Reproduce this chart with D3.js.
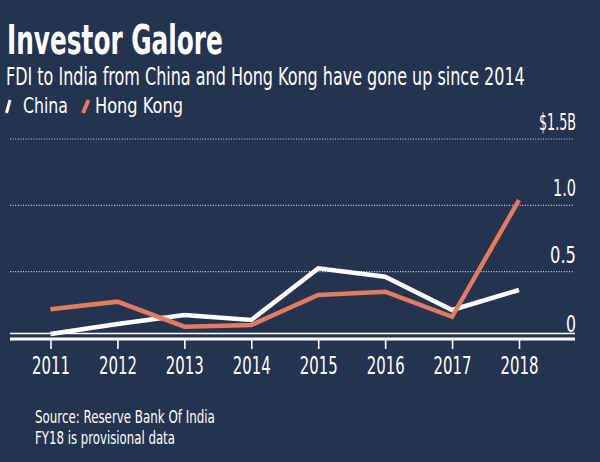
<!DOCTYPE html>
<html>
<head>
<meta charset="utf-8">
<script src="https://cdn.jsdelivr.net/npm/d3@7"></script>
<style>
  html, body { margin: 0; padding: 0; background: #233350; }
  svg { display: block; }
  text { font-family: "Liberation Sans Narrow", "DejaVu Sans Condensed", "Arial Narrow", sans-serif; fill: #ffffff; }
</style>
</head>
<body>
<svg id="chart" width="600" height="462"></svg>
<script>
const years = ["2011", "2012", "2013", "2014", "2015", "2016", "2017", "2018"];
const china = [0.03, 0.105, 0.173, 0.136, 0.525, 0.462, 0.211, 0.362];
const hongKong = [0.216, 0.274, 0.085, 0.098, 0.324, 0.349, 0.16, 1.04];
const yTicks = [0, 0.5, 1.0, 1.5];
const yTickLabels = ["0", "0.5", "1.0", "$1.5B"];

const svg = d3.select("#chart");
const W = 600, H = 462;
svg.append("rect").attr("width", W).attr("height", H).attr("fill", "#233350");

const x = d3.scalePoint().domain(years).range([50.5, 519]);
const y = d3.scaleLinear().domain([0, 1.5]).range([338, 139]);

// helper: place text and squeeze horizontally to a target width
function fitText(parent, str, ax, by, size, width, opts = {}) {
  const t = parent.append("text").attr("x", 0).attr("y", 0)
    .attr("font-size", size).attr("text-anchor", opts.anchor || "start")
    .attr("fill", opts.fill || "#ffffff")
    .text(str);
  if (opts.weight) t.attr("font-weight", opts.weight);
  const natural = t.node().getComputedTextLength();
  const k = natural > 0 ? width / natural : 1;
  t.attr("transform", `translate(${ax},${by}) scale(${k},1)`);
  return t;
}

// Title / subtitle
fitText(svg, "Investor Galore", 7, 53.5, 40, 216, { weight: "bold" });
fitText(svg, "FDI to India from China and Hong Kong have gone up since 2014", 6, 84.5, 24, 519, { fill: "#e8ebf0" });

// Legend
svg.append("line").attr("x1", 6.5).attr("y1", 113).attr("x2", 10).attr("y2", 100)
  .attr("stroke", "#ffffff").attr("stroke-width", 3);
fitText(svg, "China", 23, 113.3, 20.5, 45, { fill: "#eef0f4" });
svg.append("line").attr("x1", 83).attr("y1", 113).attr("x2", 88.5).attr("y2", 100)
  .attr("stroke", "#e27b62").attr("stroke-width", 4);
fitText(svg, "Hong Kong", 95, 113.3, 20.5, 88, { fill: "#eef0f4" });

// Gridlines (dotted) for non-zero ticks
const grid = svg.append("g");
yTicks.filter(d => d > 0).forEach(d => {
  grid.append("line").attr("x1", 10).attr("x2", 574)
    .attr("y1", y(d)).attr("y2", y(d))
    .attr("stroke", "#d5dae3").attr("stroke-width", 1.2)
    .attr("stroke-dasharray", "1,1.6");
});

// Y labels
const labelWidths = { "0": 10, "0.5": 26, "1.0": 23, "$1.5B": 37 };
yTicks.forEach((d, i) => {
  const t = yTickLabels[i];
  fitText(svg, t, 576, y(d) - (d === 0 ? 6.5 : 9), 23, labelWidths[t], { anchor: "end", fill: "#e8ebf0" });
});

// Baseline double line
svg.append("line").attr("x1", 10).attr("x2", 575).attr("y1", y(0) - 4.5).attr("y2", y(0) - 4.5)
  .attr("stroke", "#ffffff").attr("stroke-width", 1.5);
svg.append("line").attr("x1", 10).attr("x2", 575).attr("y1", y(0) + 1).attr("y2", y(0) + 1)
  .attr("stroke", "#ffffff").attr("stroke-width", 3);

// X axis
const xAxis = d3.axisBottom(x).tickSize(10).tickPadding(10);
const gx = svg.append("g").attr("transform", `translate(0,${y(0) + 1})`).call(xAxis);
gx.select(".domain").remove();
gx.selectAll(".tick line").attr("stroke", "#ffffff").attr("stroke-width", 1.6);
gx.selectAll(".tick text")
  .attr("font-size", 24).attr("fill", "#eef0f4")
  .attr("font-family", "\"Liberation Sans Narrow\", \"DejaVu Sans Condensed\", sans-serif")
  .attr("dy", null).attr("y", 0)
  .each(function () {
    const n = this.getComputedTextLength();
    const k = n > 0 ? 38 / n : 1;
    d3.select(this).attr("transform", `translate(0,35) scale(${k},1)`);
  });

// Lines
const line = d3.line().x((d, i) => x(years[i])).y(d => y(d));
svg.append("path").datum(china).attr("d", line)
  .attr("fill", "none").attr("stroke", "#ffffff").attr("stroke-width", 4.5);
svg.append("path").datum(hongKong).attr("d", line)
  .attr("fill", "none").attr("stroke", "#e27b62").attr("stroke-width", 4.5);

// Source
fitText(svg, "Source: Reserve Bank Of India", 35, 423, 17.5, 180, { fill: "#e8ebf0" });
fitText(svg, "FY18 is provisional data", 35, 444, 17.5, 140, { fill: "#e8ebf0" });
</script>
</body>
</html>
